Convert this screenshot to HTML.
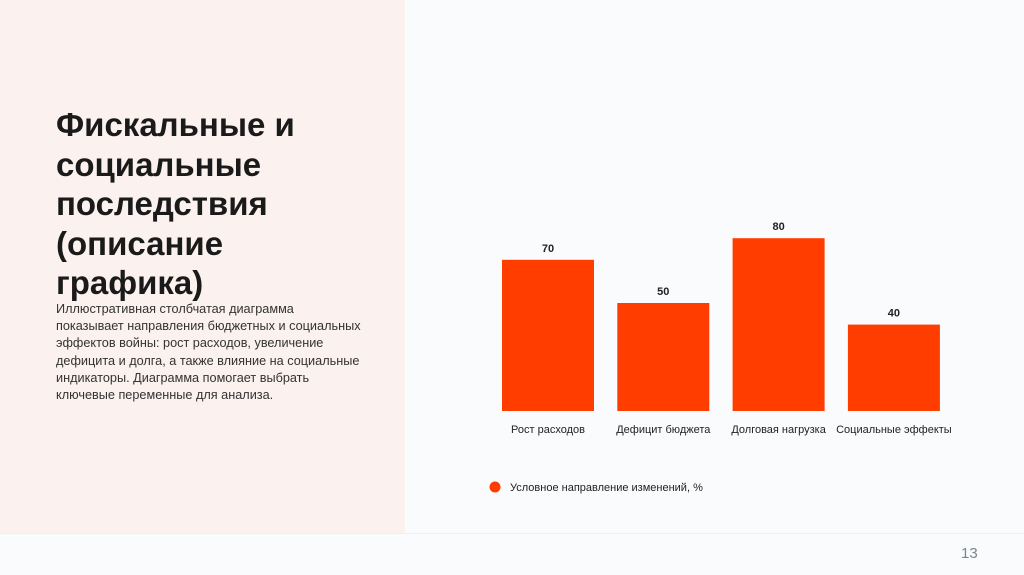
<!DOCTYPE html>
<html><head><meta charset="utf-8"><style>
body{margin:0;width:1024px;height:574px;background:#fafbfc;font-family:"Liberation Sans",sans-serif;position:relative;overflow:hidden}
#left{position:absolute;left:0;top:0;width:405px;height:533px;background:#fbf1ee}
#foot{position:absolute;left:0;top:533px;width:1024px;height:41px;border-top:1px solid #eef0f2;background:#fafbfc}
h1{position:absolute;left:56px;top:105px;margin:0;font-size:33px;line-height:39.5px;font-weight:bold;color:#1a1a1a;width:265px}
#desc{position:absolute;left:56px;top:301px;margin:0;font-size:12.7px;line-height:17.2px;color:#333;width:330px;white-space:nowrap}
#pg{position:absolute;left:961px;top:545px;font-size:15px;color:#7a8591}
</style></head><body>
<div id="left"></div>
<div id="foot"></div>
<h1>Фискальные и социальные последствия (описание графика)</h1>
<p id="desc">Иллюстративная столбчатая диаграмма<br>показывает направления бюджетных и социальных<br>эффектов войны: рост расходов, увеличение<br>дефицита и долга, а также влияние на социальные<br>индикаторы. Диаграмма помогает выбрать<br>ключевые переменные для анализа.</p>
<div id="pg">13</div>
<svg id="chart" width="1024" height="574" style="position:absolute;left:0;top:0"></svg>
<script>
const categories=["Рост расходов","Дефицит бюджета","Долговая нагрузка","Социальные эффекты"];
const values=[70,50,80,40];
const legendLabel="Условное направление изменений, %";
const svg=document.getElementById('chart');const NS="http://www.w3.org/2000/svg";
const baseY=411,unit=2.16,x0=502,step=115.3,bw=92;
const yS=v=>baseY-v*unit;const xS=i=>x0+i*step;
function mk(t,a){const e=document.createElementNS(NS,t);for(const k in a)e.setAttribute(k,a[k]);svg.appendChild(e);return e;}
categories.forEach((c,i)=>{
const r=mk('rect',{x:xS(i),y:yS(values[i]),width:bw,height:baseY-yS(values[i]),fill:'#ff3d00'});


const v=mk('text',{x:xS(i)+bw/2,y:yS(values[i])-8,'text-anchor':'middle','font-size':11,'font-weight':'bold',fill:'#222'});v.textContent=values[i];


const l=mk('text',{x:xS(i)+bw/2,y:433,'text-anchor':'middle','font-size':11,fill:'#222'});l.textContent=c;


});
const d=mk('circle',{cx:495,cy:487,r:5.5,fill:'#ff3d00'});


const lt=mk('text',{x:510,y:491,'font-size':11,fill:'#222'});lt.textContent=legendLabel;


</script>
</body></html>
